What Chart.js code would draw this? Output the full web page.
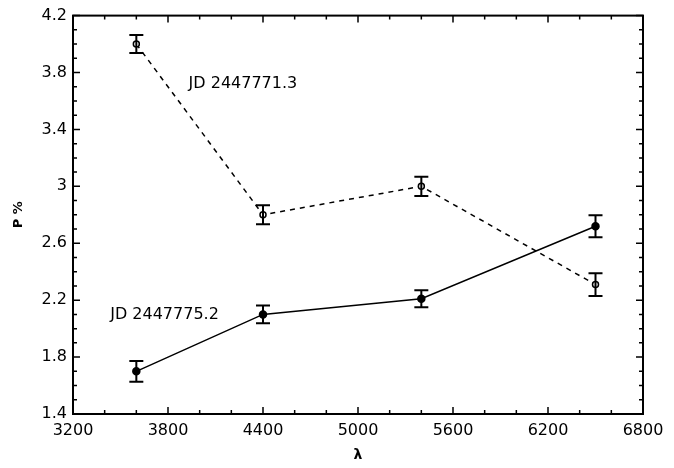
<!DOCTYPE html>
<html>
<head>
<meta charset="utf-8">
<script src="https://cdn.jsdelivr.net/npm/chart.js@4/dist/chart.umd.min.js"></script>
<style>
  html, body { margin: 0; padding: 0; background: #fff; }
  #wrap { width: 674px; height: 468px; }
</style>
</head>
<body>
<div id="wrap"><canvas id="chart"></canvas></div>
<script>
// wavelength (x) and polarisation P % (y)
const lambda = [3600, 4400, 5400, 6500];
const pEarly = [4.0, 2.8, 3.0, 2.31];      // JD 2447771.3
const errEarly = [0.063, 0.067, 0.067, 0.08];
const pLate = [1.7, 2.1, 2.21, 2.72];      // JD 2447775.2
const errLate = [0.073, 0.063, 0.06, 0.077];

const xTicks = [3200, 3800, 4400, 5000, 5600, 6200, 6800];
const yTicks = [1.4, 1.8, 2.2, 2.6, 3, 3.4, 3.8, 4.2];

const seriesNames = ['JD 2447771.3', 'JD 2447775.2'];
const namePos = [[3930, 3.72], [3435, 2.1]];

const FONT = 'DejaVu Sans';

const toPoints = (xs, ys, es) => xs.map((x, i) => ({ x, y: ys[i], e: es[i] }));

// error bars, labels, inward ticks and frame
const decor = {
    id: 'decor',
    afterDatasetsDraw(chart) {
        const { ctx, chartArea: a, scales: { x, y } } = chart;
        ctx.save();
        ctx.strokeStyle = '#000';
        ctx.fillStyle = '#000';

        // error bars
        ctx.lineWidth = 2;
        chart.data.datasets.forEach(ds => {
            ds.data.forEach(p => {
                const px = x.getPixelForValue(p.x);
                const top = y.getPixelForValue(p.y + p.e);
                const bot = y.getPixelForValue(p.y - p.e);
                ctx.beginPath();
                ctx.moveTo(px, top); ctx.lineTo(px, bot);
                ctx.moveTo(px - 7, top); ctx.lineTo(px + 7, top);
                ctx.moveTo(px - 7, bot); ctx.lineTo(px + 7, bot);
                ctx.stroke();
            });
        });

        // series names
        ctx.font = `16px "${FONT}"`;
        ctx.textBaseline = 'middle';
        ctx.textAlign = 'left';
        seriesNames.forEach((s, i) => {
            ctx.fillText(s, x.getPixelForValue(namePos[i][0]), y.getPixelForValue(namePos[i][1]));
        });

        // inward ticks on all four sides
        ctx.lineWidth = 1.5;
        ctx.beginPath();
        for (let v = 3200; v <= 6800; v += 200) {
            const px = x.getPixelForValue(v);
            const len = (v - 3200) % 600 === 0 ? 7 : 4;
            ctx.moveTo(px, a.bottom); ctx.lineTo(px, a.bottom - len);
            ctx.moveTo(px, a.top); ctx.lineTo(px, a.top + len);
        }
        for (let k = 0; k <= 28; k++) {
            const py = y.getPixelForValue(1.4 + k * 0.1);
            const len = k % 4 === 0 ? 7 : 4;
            ctx.moveTo(a.left, py); ctx.lineTo(a.left + len, py);
            ctx.moveTo(a.right, py); ctx.lineTo(a.right - len, py);
        }
        ctx.stroke();

        ctx.lineWidth = 2;
        ctx.strokeRect(a.left, a.top, a.right - a.left, a.bottom - a.top);
        ctx.restore();
    }
};

new Chart(document.getElementById('chart'), {
    type: 'scatter',
    plugins: [decor],
    data: {
        datasets: [
            {
                data: toPoints(lambda, pEarly, errEarly),
                showLine: true,
                borderColor: '#000',
                borderWidth: 1.5,
                borderDash: [5, 5],
                pointRadius: 3,
                pointBorderWidth: 1.5,
                pointBackgroundColor: '#fff',
                pointBorderColor: '#000'
            },
            {
                data: toPoints(lambda, pLate, errLate),
                showLine: true,
                borderColor: '#000',
                borderWidth: 1.5,
                pointRadius: 3.5,
                pointBackgroundColor: '#000',
                pointBorderColor: '#000'
            }
        ]
    },
    options: {
        responsive: true,
        maintainAspectRatio: false,
        animation: false,
        layout: { padding: { top: 14, right: 31, left: 0, bottom: 0 } },
        plugins: {
            legend: { display: false },
            tooltip: { enabled: false }
        },
        scales: {
            x: {
                type: 'linear',
                min: 3200,
                max: 6800,
                afterBuildTicks: s => { s.ticks = xTicks.map(value => ({ value })); },
                afterFit: s => { s.height = 54; },
                grid: { display: false, drawTicks: false },
                border: { display: false },
                ticks: {
                    padding: 7,
                    color: '#000',
                    font: { family: FONT, size: 16 },
                    callback: v => String(v)
                },
                title: {
                    display: true,
                    text: 'λ',
                    color: '#000',
                    font: { family: FONT, size: 14, weight: 'bold' },
                    padding: { top: 6, bottom: 4 }
                }
            },
            y: {
                min: 1.4,
                max: 4.2,
                afterBuildTicks: s => { s.ticks = yTicks.map(value => ({ value })); },
                afterFit: s => { s.width = 73; },
                grid: { display: false, drawTicks: false },
                border: { display: false },
                ticks: {
                    padding: 6,
                    color: '#000',
                    font: { family: FONT, size: 16 },
                    callback: v => String(+v.toFixed(1))
                },
                title: {
                    display: true,
                    text: 'P %',
                    color: '#000',
                    font: { family: FONT, size: 13, weight: 'bold' },
                    padding: { top: 11, bottom: 0 }
                }
            }
        }
    }
});
</script>
</body>
</html>
